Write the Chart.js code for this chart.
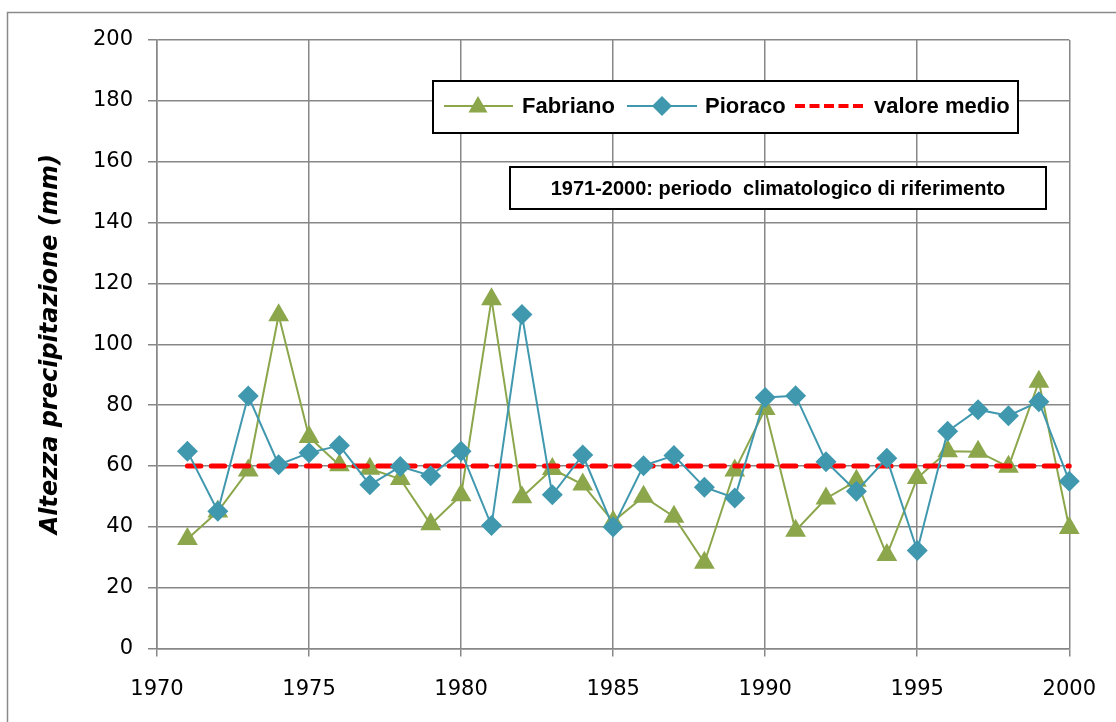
<!DOCTYPE html>
<html>
<head>
<meta charset="utf-8">
<script src="https://cdn.jsdelivr.net/npm/chart.js@4/dist/chart.umd.min.js"></script>
<style>
html,body{margin:0;padding:0;background:#fff;}
#wrap{width:1116px;height:722px;position:relative;}
</style>
</head>
<body>
<div id="wrap"><canvas id="c" width="1116" height="722"></canvas></div>
<script>
// ---- data ----
const years = [1971,1972,1973,1974,1975,1976,1977,1978,1979,1980,1981,1982,1983,1984,1985,1986,1987,1988,1989,1990,1991,1992,1993,1994,1995,1996,1997,1998,1999,2000];
const fabriano = [36,45,58.5,109.5,69.5,60.2,59.1,55.7,40.8,50.4,114.8,49.7,59,53.9,41.7,49.9,43.3,28.2,58.5,78.7,38.7,49.3,55.1,30.7,56,64.8,64.7,59.7,87.7,39.6];
const pioraco = [64.8,45.1,83,60.4,64.3,66.7,53.8,59.8,56.8,64.8,40.4,109.8,50.5,63.6,39.9,60.1,63.4,53,49.5,82.5,83.1,61.4,51.7,62.5,32.2,71.4,78.5,76.5,81.1,55];
const meanValue = 60;
const seriesNames = ['Fabriano','Pioraco','valore medio'];
const yTitle = 'Altezza precipitazione (mm)';
const noteText = '1971-2000: periodo  climatologico di riferimento';
const xMin = 1970, xMax = 2000, xStep = 5;
const yMin = 0, yMax = 200, yStep = 20;

const GREEN = '#8BA64B';
const TEAL = '#4098AF';
const RED = '#FF0000';
const GRID = '#878787';

const toPts = (arr) => years.map((y, i) => ({x: y, y: arr[i]}));
const meanPts = [{x: years[0], y: meanValue}, {x: years[years.length-1], y: meanValue}];

function drawTri(ctx, x, y, r, color){
  ctx.beginPath();
  ctx.moveTo(x, y - r);
  ctx.lineTo(x + r*Math.sin(Math.PI/3), y + r/2);
  ctx.lineTo(x - r*Math.sin(Math.PI/3), y + r/2);
  ctx.closePath();
  ctx.fillStyle = color; ctx.fill();
}
function drawDia(ctx, x, y, r, color){
  ctx.beginPath();
  ctx.moveTo(x - r, y); ctx.lineTo(x, y - r); ctx.lineTo(x + r, y); ctx.lineTo(x, y + r);
  ctx.closePath();
  ctx.fillStyle = color; ctx.fill();
}

const framePlugin = {
  id: 'frame',
  beforeDraw(chart){
    const ctx = chart.ctx;
    ctx.save();
    ctx.fillStyle = '#fff';
    ctx.fillRect(0,0,chart.width,chart.height);
    ctx.strokeStyle = '#8a8a8a';
    ctx.lineWidth = 1.5;
    ctx.beginPath();
    ctx.moveTo(7.5, chart.height);
    ctx.lineTo(7.5, 12.5);
    ctx.lineTo(chart.width, 12.5);
    ctx.stroke();
    ctx.restore();
  }
};

const legendPlugin = {
  id: 'customLegend',
  afterDraw(chart){
    const ctx = chart.ctx;
    ctx.save();
    // legend box
    ctx.fillStyle = '#fff';
    ctx.fillRect(433, 81, 585, 52);
    ctx.strokeStyle = '#000';
    ctx.lineWidth = 2;
    ctx.strokeRect(433, 81, 585, 52);
    const ly = 106;
    ctx.lineWidth = 2;
    ctx.strokeStyle = GREEN;
    ctx.beginPath(); ctx.moveTo(444, ly); ctx.lineTo(513, ly); ctx.stroke();
    drawTri(ctx, 478, ly + 1, 11, GREEN);
    ctx.strokeStyle = TEAL;
    ctx.beginPath(); ctx.moveTo(627, ly); ctx.lineTo(697, ly); ctx.stroke();
    drawDia(ctx, 662, ly, 10, TEAL);
    ctx.strokeStyle = RED;
    ctx.lineWidth = 4;
    ctx.setLineDash([10, 4.5]);
    ctx.beginPath(); ctx.moveTo(795, ly); ctx.lineTo(867, ly); ctx.stroke();
    ctx.setLineDash([]);
    ctx.fillStyle = '#000';
    ctx.font = 'bold 22px "Liberation Sans", Arial, sans-serif';
    ctx.textBaseline = 'middle';
    ctx.textAlign = 'left';
    ctx.fillText(seriesNames[0], 522, ly + 1);
    ctx.fillText(seriesNames[1], 705, ly + 1);
    ctx.fillText(seriesNames[2], 874, ly + 1);
    // note box
    ctx.fillStyle = '#fff';
    ctx.fillRect(510, 167, 536, 42);
    ctx.strokeStyle = '#000';
    ctx.lineWidth = 2;
    ctx.strokeRect(510, 167, 536, 42);
    ctx.fillStyle = '#000';
    ctx.font = 'bold 20px "Liberation Sans", Arial, sans-serif';
    ctx.textAlign = 'center';
    ctx.fillText(noteText, 778, 189);
    ctx.restore();
  }
};

const tickFont = {family: '"DejaVu Sans", sans-serif', size: 21};

new Chart(document.getElementById('c'), {
  type: 'line',
  data: {
    datasets: [
      {
        label: seriesNames[0], data: toPts(fabriano), order: 3, clip: false,
        borderColor: GREEN, backgroundColor: GREEN, borderWidth: 2,
        pointStyle: 'triangle', pointRadius: 12, pointHoverRadius: 12,
        pointBorderWidth: 0, pointBackgroundColor: GREEN, tension: 0
      },
      {
        label: seriesNames[2], data: meanPts, order: 2, clip: false,
        borderColor: RED, borderWidth: 5, borderDash: [13.5, 10.3], borderCapStyle: 'round',
        pointRadius: 0, pointHoverRadius: 0, tension: 0
      },
      {
        label: seriesNames[1], data: toPts(pioraco), order: 1, clip: false,
        borderColor: TEAL, backgroundColor: TEAL, borderWidth: 2,
        pointStyle: 'rectRot', pointRadius: 10.5, pointHoverRadius: 10.5,
        pointBorderWidth: 0, pointBackgroundColor: TEAL, tension: 0
      }
    ]
  },
  options: {
    responsive: false,
    animation: false,
    devicePixelRatio: 1,
    layout: {padding: {left: 0, top: 40, right: 44, bottom: 0}},
    plugins: {legend: {display: false}, tooltip: {enabled: false}, title: {display: false}},
    scales: {
      x: {
        type: 'linear', min: xMin, max: xMax,
        ticks: {stepSize: xStep, color: '#000', font: tickFont, padding: 20, callback: v => String(v), maxRotation: 0},
        grid: {color: GRID, lineWidth: 1.5, tickLength: 8, tickColor: GRID, drawTicks: true},
        border: {color: GRID, width: 1.5},
        afterFit: s => { s.height = 73.5; }
      },
      y: {
        min: yMin, max: yMax,
        ticks: {stepSize: yStep, color: '#000', font: tickFont, padding: 15},
        grid: {color: GRID, lineWidth: 1.5, tickLength: 9, tickColor: GRID, drawTicks: true},
        border: {color: GRID, width: 1.5},
        title: {display: true, text: yTitle, color: '#000',
          font: {family: '"DejaVu Sans", sans-serif', size: 24, weight: 'bold', style: 'italic'},
          padding: {top: 36, bottom: 0}},
        afterFit: s => { s.width = 157; }
      }
    }
  },
  plugins: [framePlugin, legendPlugin]
});
</script>
</body>
</html>
